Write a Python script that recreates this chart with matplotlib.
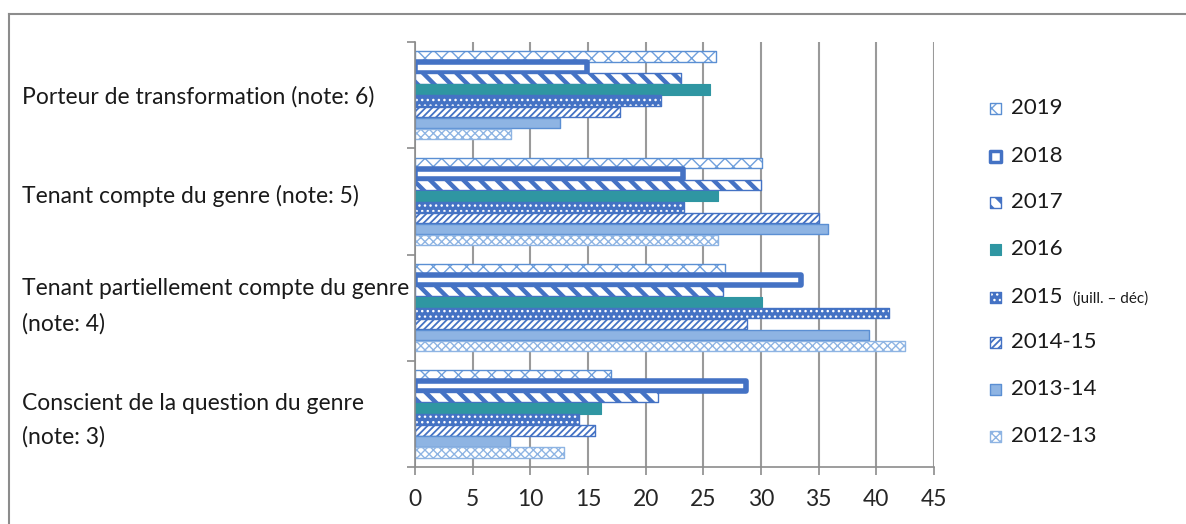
import matplotlib
matplotlib.use("Agg")
import matplotlib.pyplot as plt
from matplotlib.patches import Rectangle
import numpy as np

plt.rcParams['font.family'] = ['Lato', 'DejaVu Sans']

categories = [
    "Porteur de transformation (note: 6)",
    "Tenant compte du genre (note: 5)",
    "Tenant partiellement compte du genre\n(note: 4)",
    "Conscient de la question du genre\n(note: 3)",
]
series = ["2019", "2018", "2017", "2016", "2015", "2014-15", "2013-14", "2012-13"]
values = {
    "2019":    [26.1, 30.1, 26.9, 17.0],
    "2018":    [14.9, 23.2, 33.5, 28.7],
    "2017":    [23.1, 30.0, 26.7, 21.1],
    "2016":    [25.6, 26.3, 30.1, 16.1],
    "2015":    [21.3, 23.3, 41.1, 14.2],
    "2014-15": [17.8, 35.0, 28.8, 15.6],
    "2013-14": [12.6, 35.8, 39.4, 8.2],
    "2012-13": [8.3, 26.3, 42.5, 12.9],
}
xticks = [0, 5, 10, 15, 20, 25, 30, 35, 40, 45]

BLUE = '#4472c4'
MID = '#5b8fd3'
LIGHT = '#8eb4e3'
TEAL = '#2f96a2'
# (facecolor, hatch, hatchcolor, hatch_lw, edgecolor, edge_lw)
styles = {
    "2019":    ('white', 'xx', '#6fa0dc', 1.0, MID, 1.0),
    "2018":    ('white', None, None, 1.0, BLUE, 4.0),
    "2017":    ('white', '\\\\', BLUE, 3.2, BLUE, 1.0),
    "2016":    (TEAL, None, None, 1.0, TEAL, 0.8),
    "2015":    (BLUE, '...', 'white', 1.0, BLUE, 1.0),
    "2014-15": ('white', '/////', BLUE, 1.3, BLUE, 1.0),
    "2013-14": (LIGHT, None, None, 1.0, MID, 1.0),
    "2012-13": ('white', 'xxxx', LIGHT, 1.0, LIGHT, 1.0),
}

W, H = 1186, 524
fig = plt.figure(figsize=(W / 100, H / 100), dpi=100)
ax = fig.add_axes([415 / W, 1 - 467 / H, (934 - 415) / W, (467 - 42) / H])


def draw_bar(target, x, y, w, h, st, transform=None):
    fc, hatch, hc, hlw, ec, elw = st
    kw = {}
    if transform is not None:
        kw['transform'] = transform
    with plt.rc_context({'hatch.linewidth': hlw}):
        r1 = Rectangle((x, y), w, h, facecolor=fc, edgecolor=hc if hc else fc,
                       hatch=hatch, linewidth=0, **kw)
        if hasattr(r1, 'set_hatch_linewidth'):
            try:
                r1.set_hatch_linewidth(hlw)
            except Exception:
                pass
    r2 = Rectangle((x, y), w, h, facecolor='none', edgecolor=ec, linewidth=elw,
                   joinstyle='round', **kw)
    if transform is not None:
        target.add_artist(r1)
        target.add_artist(r2)
    else:
        target.add_patch(r1)
        target.add_patch(r2)


bh = 0.104
n = len(series)
for ci in range(len(categories)):
    for si, s in enumerate(series):
        yc = ci + (si - (n - 1) / 2) * bh
        draw_bar(ax, 0, yc - bh / 2 * 0.94, values[s][ci], bh * 0.94, styles[s])

ax.set_xlim(0, 45)
ax.set_ylim(len(categories) - 0.5, -0.5)
ax.set_xticks(xticks)
ax.set_xticklabels([str(t) for t in xticks], fontsize=16.5, color='#262626')
ax.set_yticks([-0.5, 0.5, 1.5, 2.5, 3.5])
ax.set_yticklabels([])
ax.tick_params(axis='x', length=6, width=1.2, color='#8c8c8c', pad=10)
ax.tick_params(axis='y', length=6, width=1.2, color='#8c8c8c')
ax.xaxis.grid(True, color='#9a9a9a', linewidth=1.5)
ax.set_axisbelow(True)
for sp in ['top', 'right']:
    ax.spines[sp].set_visible(False)
for sp in ['left', 'bottom']:
    ax.spines[sp].set_color('#8c8c8c')
    ax.spines[sp].set_linewidth(1.2)

# category labels
label_y = [97, 196, 306, 420]
label_ls = [1.0, 1.0, 1.8, 1.7]
for lab, yp, ls in zip(categories, label_y, label_ls):
    fig.text(22 / W, 1 - yp / H, lab, ha='left', va='center', fontsize=16.5,
             color='#1a1a1a', linespacing=ls)

# legend (manual)
leg_y = [108, 156, 202, 249, 297, 342, 389, 436]
for s, yp in zip(series, leg_y):
    st = styles[s]
    st_leg = (st[0], st[1], st[2], st[3], st[4], min(st[5], 2.5))
    draw_bar(fig, 990 / W, 1 - (yp + 5.5) / H, 11 / W, 11 / H, st_leg, transform=fig.transFigure)
    fig.text(1011 / W, 1 - yp / H, s, ha='left', va='center', fontsize=16, color='#1a1a1a')
    if s == "2015":
        fig.text(1073 / W, 1 - (yp + 1) / H, "(juill. – déc)", ha='left', va='center',
                 fontsize=11, color='#1a1a1a')

# outer border (left and top)
fig.add_artist(plt.Line2D([9 / W, 9 / W], [0, 1 - 14 / H], transform=fig.transFigure,
                          color='#8c8c8c', linewidth=1.5))
fig.add_artist(plt.Line2D([9 / W, 1], [1 - 14 / H, 1 - 14 / H], transform=fig.transFigure,
                          color='#8c8c8c', linewidth=1.5))

fig.savefig('out.png', dpi=100)
